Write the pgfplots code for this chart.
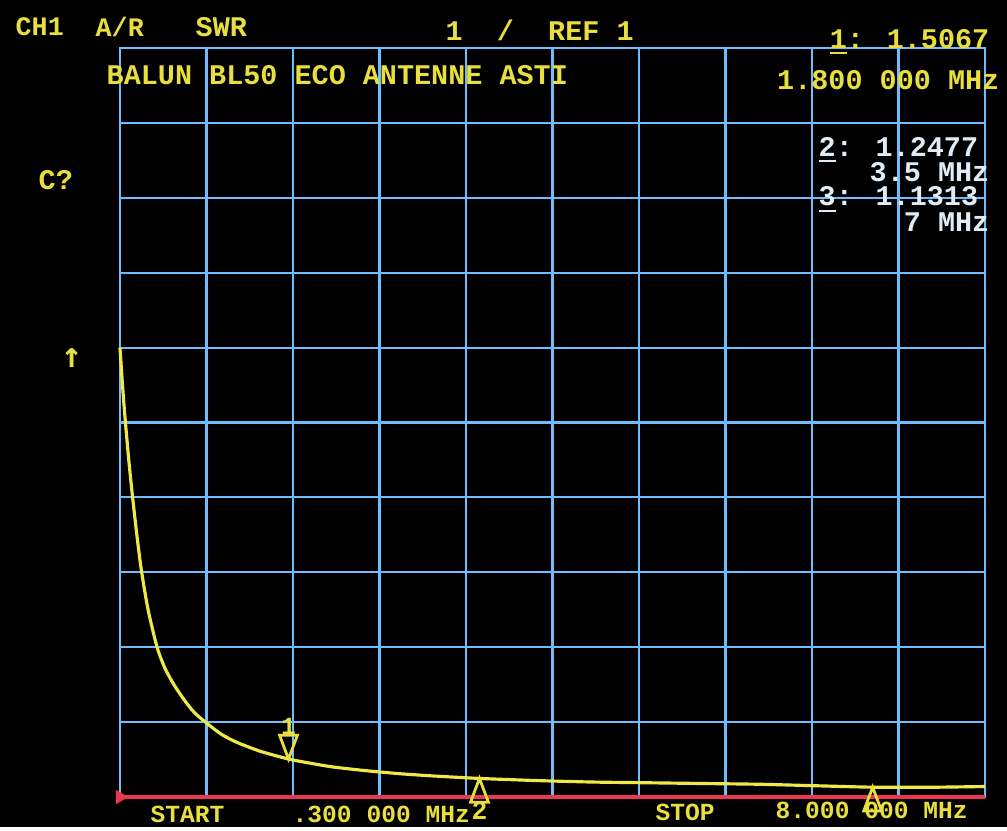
\documentclass[border=0pt]{standalone}
\usepackage{pgfplots}
\pgfplotsset{compat=1.18}
\usepackage{fontspec}
\newfontfamily\crt{Liberation Mono}
\newfontfamily\sym{DejaVu Sans Mono}
\definecolor{crtyellow}{RGB}{232,222,62}
\definecolor{traceyellow}{RGB}{240,232,70}
\definecolor{gridblue}{RGB}{110,190,255}
\definecolor{refred}{RGB}{235,55,80}
\definecolor{crtwhite}{RGB}{225,235,245}

% SWR trace, 0.3 - 8 MHz (1/div, ref 1 at bottom)
\pgfplotstableread{
f     swr
0.30  7.00
0.32  6.55
0.34  6.15
0.36  5.80
0.38  5.47
0.41  5.03
0.45  4.50
0.49  4.03
0.55  3.50
0.63  3.00
0.70  2.72
0.78  2.50
0.87  2.30
0.96  2.13
1.06  2.00
1.20  1.84
1.34  1.73
1.55  1.61
1.80  1.507
2.00  1.45
2.20  1.40
2.50  1.35
2.80  1.31
3.10  1.28
3.50  1.248
4.00  1.22
4.50  1.20
5.00  1.19
5.50  1.18
6.00  1.17
6.50  1.15
7.00  1.131
7.50  1.13
8.00  1.14
}\swrtrace

\begin{document}
\begin{tikzpicture}[x=1cm,y=1cm]
\fill[black] (-1.20,-0.30) rectangle (8.87,7.97);
\begin{axis}[
  at={(0,0)}, anchor=south west,
  scale only axis, width=8.65cm, height=7.49cm,
  xmin=0.3, xmax=8, ymin=1, ymax=11,
  xtick={0.3,1.07,1.84,2.61,3.38,4.15,4.92,5.69,6.46,7.23,8.0},
  ytick={1,...,11},
  xticklabels={}, yticklabels={},
  major tick length=0pt,
  grid=major,
  major grid style={gridblue, line width=0.6pt},
  axis line style={gridblue, line width=0.6pt},
  clip=false,
]
\addplot[refred, line width=1.2pt] coordinates {(0.3,1) (8,1)};
\addplot[only marks, mark=triangle*, mark size=2pt, mark options={refred, rotate=-90}] coordinates {(0.3,1)};
\addplot[traceyellow, line width=0.9pt, smooth, tension=0.4] table[x=f, y=swr] {\swrtrace};
% markers
\addplot[only marks, mark=triangle, mark size=4.5pt, mark options={crtyellow, line width=0.8pt, yshift=4.5pt, rotate=180, xscale=0.65}] coordinates {(1.8,1.507)};
\addplot[only marks, mark=triangle, mark size=4.5pt, mark options={crtyellow, line width=0.8pt, yshift=-4.5pt, xscale=0.65}] coordinates {(3.5,1.248) (7.0,1.131)};
\node[text=crtyellow, font=\crt\bfseries\fontsize{7}{8}\selectfont] at (axis cs:1.8,1.507) [yshift=0.33cm] {1};
\node[text=crtyellow, font=\crt\bfseries\fontsize{7.5}{9}\selectfont] at (axis cs:3.5,1.248) [yshift=-0.32cm] {2};
\end{axis}
\begin{scope}[every node/.style={text=crtyellow, font=\crt\bfseries\fontsize{8.1}{9}\selectfont, inner sep=0pt}]
\node[anchor=west, font=\crt\bfseries\fontsize{7.6}{9}\selectfont] at (-1.05,7.70) {CH1};
\node[anchor=west, font=\crt\bfseries\fontsize{7.6}{9}\selectfont] at (-0.25,7.70) {A/R};
\node[anchor=west] at (0.75,7.70) {SWR};
\node[anchor=west] at (3.25,7.67) {1\ \ /\ \ REF 1};
\node[anchor=east] at (8.70,7.55) {\underline{1}: 1.5067};
\node[anchor=west] at (-0.14,7.22) {BALUN BL50 ECO ANTENNE ASTI};
\node[anchor=east] at (8.80,7.17) {1.800 000 MHz};
\node[anchor=west] at (-0.82,6.17) {C?};
\node at (-0.48,4.39) {\sym\fontsize{10}{11}\selectfont ↑};
\end{scope}
\begin{scope}[every node/.style={text=crtyellow, font=\crt\bfseries\fontsize{7}{8}\selectfont, inner sep=0pt}]
\node[anchor=west] at (0.30,-0.17) {START};
\node[anchor=west] at (1.72,-0.17) {.300 000 MHz};
\node[anchor=west] at (5.35,-0.15) {STOP};
\node[anchor=west] at (6.55,-0.13) {8.000 000 MHz};
\end{scope}
\begin{scope}[every node/.style={text=crtwhite, font=\crt\bfseries\fontsize{8.1}{9}\selectfont, inner sep=0pt}]
\node[anchor=west] at (6.98,6.47) {\underline{2}: 1.2477};
\node[anchor=east] at (8.70,6.25) {3.5 MHz};
\node[anchor=west] at (6.98,5.97) {\underline{3}: 1.1313};
\node[anchor=east] at (8.70,5.75) {7 MHz};
\end{scope}
\end{tikzpicture}
\end{document}
